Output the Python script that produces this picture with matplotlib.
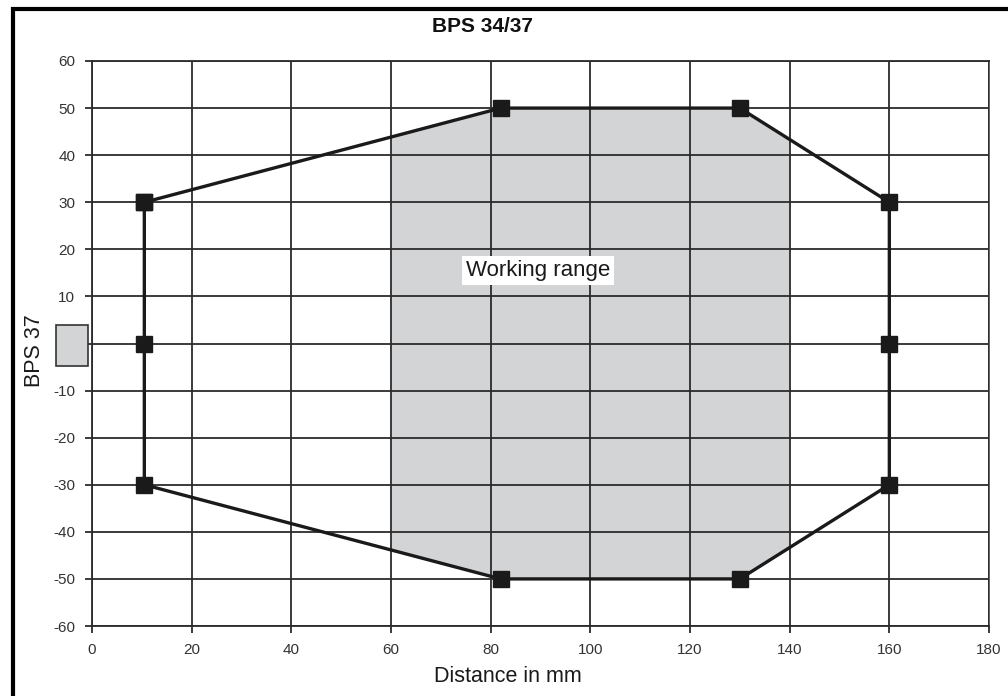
import numpy as np
import matplotlib
matplotlib.use("Agg")
import matplotlib.pyplot as plt
from matplotlib.patches import Rectangle

# --- DATA ---
outline_x = [10.5, 82, 130, 160, 160, 160, 130, 82, 10.5, 10.5, 10.5]
outline_y = [30, 50, 50, 30, 0, -30, -50, -50, -30, 0, 30]
upper_x = [10.5, 82, 130, 160]
upper_y = [30, 50, 50, 30]
lower_x = [10.5, 82, 130, 160]
lower_y = [-30, -50, -50, -30]
work_min, work_max = 60, 140
x_ticks = [0, 20, 40, 60, 80, 100, 120, 140, 160, 180]
y_ticks = [60, 50, 40, 30, 20, 10, 0, -10, -20, -30, -40, -50, -60]

# --- STYLE ---
plt.rcParams["font.family"] = ["Liberation Sans", "DejaVu Sans"]
plt.rcParams["axes.unicode_minus"] = False
grid_col = "#2b2b2b"
fill_col = "#d3d4d6"

fig = plt.figure(figsize=(10.08, 6.96), dpi=100)
ax = fig.add_axes([92 / 1008, 1 - 626 / 696, (989 - 92) / 1008, (626 - 61) / 696])

# working range: outline clipped to the working distances
xs = np.linspace(work_min, work_max, 400)
ax.fill_between(xs, np.interp(xs, lower_x, lower_y), np.interp(xs, upper_x, upper_y),
                color=fill_col, lw=0, zorder=1)

ax.set_xlim(0, 180)
ax.set_ylim(-60, 60)
ax.set_xticks(x_ticks)
ax.set_yticks(y_ticks)
ax.grid(True, color=grid_col, lw=1.3, zorder=2)
ax.set_axisbelow(False)
for sp in ax.spines.values():
    sp.set_color(grid_col)
    sp.set_linewidth(1.3)
ax.spines["right"].set_color("#555555")
ax.tick_params(axis="both", direction="out", length=5, width=1.3, color=grid_col,
               labelsize=11, labelcolor="#333333", pad=7)

ax.plot(outline_x, outline_y, color="#1a1a1a", lw=2.4, marker="s", markersize=11,
        markerfacecolor="#1a1a1a", markeredgecolor="#1a1a1a", zorder=4, clip_on=False)

ax.text(89.5, 15.5, "Working range", fontsize=16, ha="center", va="center", color="#1a1a1a",
        bbox=dict(facecolor="white", edgecolor="none", pad=3), zorder=5)

# legend swatch on the left
ax.add_patch(Rectangle((-7.2, -4.7), 6.4, 8.7, facecolor=fill_col, edgecolor="#333333",
                       lw=1.2, clip_on=False, zorder=5))

fig.text(482 / 1008, 1 - 26 / 696, "BPS 34/37", fontsize=15, fontweight="bold",
         ha="center", va="center", color="#111111")
fig.text(508 / 1008, 1 - 676 / 696, "Distance in mm", fontsize=15.5, ha="center",
         va="center", color="#1a1a1a")
fig.text(34 / 1008, 1 - 351 / 696, "BPS 37", fontsize=15.5, rotation=90, ha="center",
         va="center", color="#1a1a1a")

# outer frame
fig.patches.append(Rectangle((12.5 / 1008, -0.1), 1.2, 1.1 - 9.5 / 696, transform=fig.transFigure,
                             fill=False, edgecolor="black", lw=3, figure=fig))

fig.savefig("out.png", dpi=100)
